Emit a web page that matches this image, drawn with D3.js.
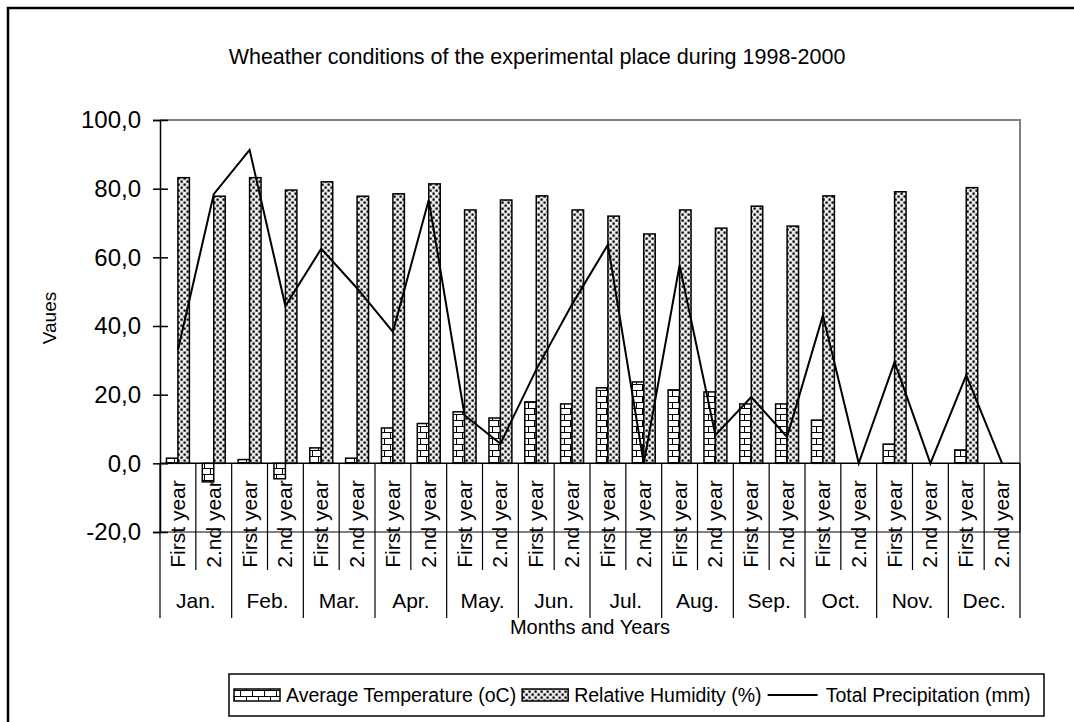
<!DOCTYPE html>
<html>
<head>
<meta charset="utf-8">
<script src="https://cdn.jsdelivr.net/npm/d3@7"></script>
<style>
  body { margin: 0; background: #fff; }
  svg { font-family: "Liberation Sans", Arial, sans-serif; }
</style>
</head>
<body>
<svg id="chart" width="1074" height="722"></svg>
<script>
// chart data
var months = ["Jan.", "Feb.", "Mar.", "Apr.", "May.", "Jun.", "Jul.", "Aug.", "Sep.", "Oct.", "Nov.", "Dec."];
var years = ["First year", "2.nd year"];
var temperature = [1.5, -5.4, 1.1, -4.5, 4.5, 1.5, 10.3, 11.6, 15.0, 13.2, 17.9, 17.3,
                   22.0, 23.7, 21.4, 20.8, 17.3, 17.3, 12.6, 0, 5.6, 0, 3.9, 0];
var humidity = [83.2, 77.8, 83.2, 79.6, 82.0, 77.8, 78.5, 81.4, 73.8, 76.7, 77.9, 73.8,
                72.0, 66.8, 73.8, 68.5, 74.9, 69.1, 77.9, 0, 79.1, 0, 80.3, 0];
var precipitation = [33.0, 78.4, 91.3, 45.8, 62.5, 51.0, 38.3, 76.7, 14.0, 5.7, 27.3, 46.3,
                     63.7, 0, 57.7, 8.2, 19.3, 7.7, 43.1, 0, 29.5, 0, 25.7, 0];
var yTicks = [-20, 0, 20, 40, 60, 80, 100];
var seriesNames = ["Average Temperature (oC)", "Relative Humidity (%)", "Total Precipitation (mm)"];

// one entry per category (month x year)
var cats = [];
months.forEach(function(m, mi) {
    years.forEach(function(yr, yi) {
        var i = mi * 2 + yi;
        cats.push({id: i, month: m, year: yr, temp: temperature[i], hum: humidity[i], prec: precipitation[i]});
    });
});

var svg = d3.select("#chart");
var defs = svg.append("defs");

// brick pattern for temperature
var brick = defs.append("pattern").attr("id", "brick")
    .attr("patternUnits", "userSpaceOnUse").attr("width", 12).attr("height", 12);
brick.append("rect").attr("width", 12).attr("height", 12).attr("fill", "#fff");
brick.append("path").attr("d", "M0,0.5H12M0,6.5H12M6.5,0V6M0.5,6V12")
    .attr("stroke", "#000").attr("stroke-width", 1).attr("fill", "none");

// dotted pattern for humidity
var dots = defs.append("pattern").attr("id", "dots")
    .attr("patternUnits", "userSpaceOnUse").attr("width", 6).attr("height", 6);
dots.append("rect").attr("width", 6).attr("height", 6).attr("fill", "#e4e4e4");
dots.append("rect").attr("x", 0.5).attr("y", 0.5).attr("width", 2.2).attr("height", 2.2).attr("fill", "#000");
dots.append("rect").attr("x", 3.5).attr("y", 3.5).attr("width", 2.2).attr("height", 2.2).attr("fill", "#000");
dots.append("rect").attr("x", 3.5).attr("y", 0.5).attr("width", 2).attr("height", 2).attr("fill", "#fff");

// outer frame (cropped at right and bottom like the reference)
svg.append("rect").attr("x", 8).attr("y", 8).attr("width", 1080).attr("height", 730)
    .attr("fill", "none").attr("stroke", "#000").attr("stroke-width", 2.5);

var plot = {left: 160, right: 1020, top: 120, bottom: 532};

var x = d3.scaleBand().domain(cats.map(function(d) { return d.id; }))
    .range([plot.left, plot.right]).padding(0);
var y = d3.scaleLinear().domain([-20, 100]).range([plot.bottom, plot.top]);
var groupW = x.bandwidth() * 0.64;
var xs = d3.scaleBand().domain(["temp", "hum"]).range([-groupW / 2, groupW / 2]);

// title
svg.append("text").attr("x", 537).attr("y", 64).attr("text-anchor", "middle")
    .attr("font-size", 21.5).text("Wheather conditions of the experimental place during 1998-2000");

// plot area border (grey)
svg.append("path")
    .attr("d", "M" + plot.left + "," + plot.top + "H" + plot.right + "V" + plot.bottom + "H" + plot.left)
    .attr("fill", "none").attr("stroke", "#808080").attr("stroke-width", 2);

// bars
var g = svg.append("g");
g.selectAll("rect.temp").data(cats).join("rect").attr("class", "temp")
    .attr("x", function(d) { return x(d.id) + x.bandwidth() / 2 + xs("temp"); })
    .attr("width", xs.bandwidth())
    .attr("y", function(d) { return y(Math.max(0, d.temp)); })
    .attr("height", function(d) { return Math.abs(y(d.temp) - y(0)); })
    .attr("fill", "url(#brick)").attr("stroke", "#000").attr("stroke-width", 1.5)
    .style("display", function(d) { return d.temp === 0 ? "none" : null; });

g.selectAll("rect.hum").data(cats).join("rect").attr("class", "hum")
    .attr("x", function(d) { return x(d.id) + x.bandwidth() / 2 + xs("hum"); })
    .attr("width", xs.bandwidth())
    .attr("y", function(d) { return y(d.hum); })
    .attr("height", function(d) { return y(0) - y(d.hum); })
    .attr("fill", "url(#dots)").attr("stroke", "#000").attr("stroke-width", 1.5)
    .style("display", function(d) { return d.hum === 0 ? "none" : null; });

// precipitation line
var line = d3.line()
    .x(function(d) { return x(d.id) + x.bandwidth() / 2; })
    .y(function(d) { return y(d.prec); });
svg.append("path").datum(cats).attr("d", line)
    .attr("fill", "none").attr("stroke", "#000").attr("stroke-width", 2);

// y axis
var yAxis = d3.axisLeft(y).tickValues(yTicks).tickSize(7).tickPadding(12)
    .tickFormat(function(d) { return d3.format(".1f")(d).replace(".", ",").replace("\u2212", "-"); });
var ya = svg.append("g").attr("transform", "translate(" + plot.left + ",0)").call(yAxis);
ya.select(".domain").attr("stroke", "#000").attr("stroke-width", 1.5);
ya.selectAll(".tick line").attr("x2", 8).attr("x1", -7).attr("stroke-width", 1.5);
ya.selectAll(".tick text").attr("font-size", 24).attr("font-family", "Liberation Sans, Arial, sans-serif").attr("fill", "#000");

// category axis at zero
var y0 = y(0);
svg.append("line").attr("x1", plot.left).attr("x2", plot.right).attr("y1", y0).attr("y2", y0)
    .attr("stroke", "#000").attr("stroke-width", 1.5);
// separators between categories
var seps = d3.range(cats.length + 1);
svg.selectAll("line.sep").data(seps).join("line").attr("class", "sep")
    .attr("x1", function(k) { return plot.left + k * x.step(); })
    .attr("x2", function(k) { return plot.left + k * x.step(); })
    .attr("y1", y0)
    .attr("y2", function(k) { return k % 2 === 0 ? 618 : 570; })
    .attr("stroke", "#000").attr("stroke-width", 1.2);

// year labels (rotated)
svg.selectAll("text.yr").data(cats).join("text").attr("class", "yr")
    .attr("transform", function(d) {
        return "translate(" + (x(d.id) + x.bandwidth() / 2 + 7) + "," + 524 + ") rotate(-90)";
    })
    .attr("text-anchor", "middle").attr("font-size", 21).text(function(d) { return d.year; });

// month labels
svg.selectAll("text.mo").data(months).join("text").attr("class", "mo")
    .attr("x", function(m, mi) { return plot.left + (mi * 2 + 1) * x.step(); })
    .attr("y", 608).attr("text-anchor", "middle").attr("font-size", 21)
    .text(function(m) { return m; });

// axis titles
svg.append("text").attr("x", (plot.left + plot.right) / 2).attr("y", 634)
    .attr("text-anchor", "middle").attr("font-size", 20).text("Months and Years");
svg.append("text").attr("transform", "translate(56,318) rotate(-90)")
    .attr("text-anchor", "middle").attr("font-size", 19).text("Vaues");

// legend
var lg = svg.append("g");
lg.append("rect").attr("x", 229).attr("y", 674).attr("width", 815).attr("height", 42)
    .attr("fill", "#fff").attr("stroke", "#000").attr("stroke-width", 1.5);
var lx = 234, ly = 695;
seriesNames.forEach(function(name, i) {
    if (i < 2) {
        lg.append("rect").attr("x", lx).attr("y", ly - 6).attr("width", 46).attr("height", 12)
            .attr("fill", i === 0 ? "url(#brick)" : "url(#dots)").attr("stroke", "#000").attr("stroke-width", 1.5);
    } else {
        lg.append("line").attr("x1", lx).attr("x2", lx + 50).attr("y1", ly).attr("y2", ly)
            .attr("stroke", "#000").attr("stroke-width", 2);
    }
    var sw = i < 2 ? 52 : 58;
    var t = lg.append("text").attr("x", lx + sw).attr("y", ly + 7).attr("font-size", 19.5).text(name);
    lx = lx + sw + t.node().getComputedTextLength() + 6;
});
</script>
</body>
</html>
